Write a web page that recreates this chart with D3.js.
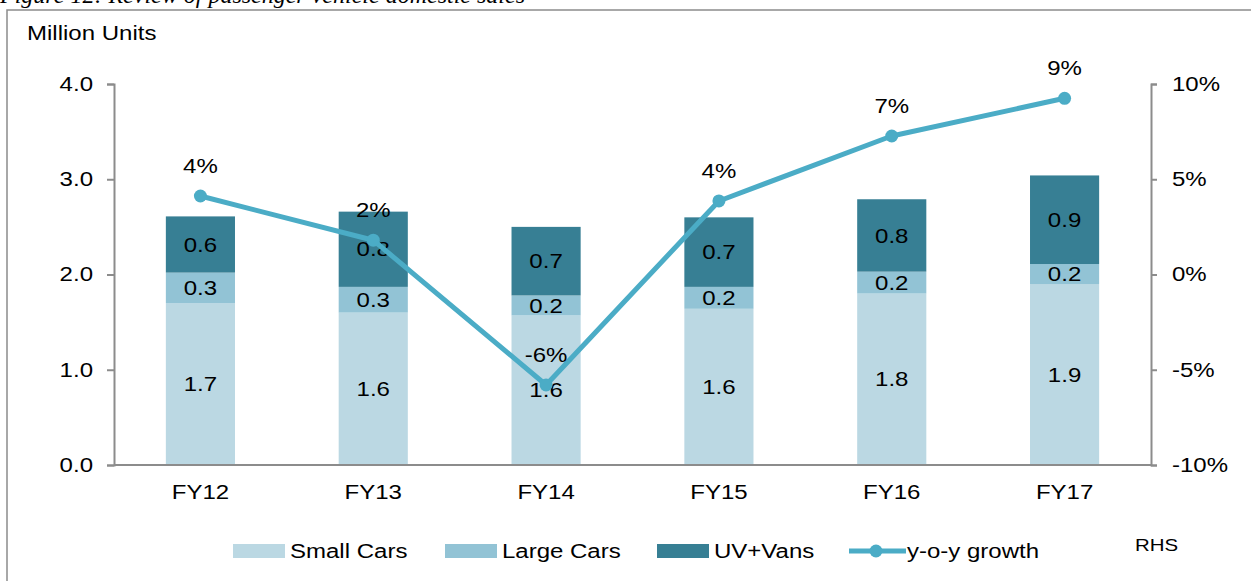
<!DOCTYPE html>
<html>
<head>
<meta charset="utf-8">
<script src="https://cdn.jsdelivr.net/npm/d3@7"></script>
<style>
  html, body { margin: 0; padding: 0; background: #fff; }
  svg { display: block; }
  text { font-family: "Liberation Sans", Arial, sans-serif; fill: #000; }
</style>
</head>
<body>
<svg id="chart" width="1251" height="581"></svg>
<script>
const categories = ["FY12", "FY13", "FY14", "FY15", "FY16", "FY17"];
const smallCars = [1.70, 1.60, 1.57, 1.64, 1.80, 1.90];
const largeCars = [0.32, 0.27, 0.21, 0.23, 0.23, 0.21];
const uvVans    = [0.59, 0.79, 0.72, 0.73, 0.76, 0.93];
const growth    = [4.12, 1.8, -5.8, 3.86, 7.27, 9.25];
const leftTicks  = [0, 1, 2, 3, 4];
const rightTicks = [-10, -5, 0, 5, 10];
const seriesNames = ["Small Cars", "Large Cars", "UV+Vans"];
const lineName = "y-o-y growth";
const colors = ["#BBD8E3", "#92C3D5", "#377F94"];
const lineColor = "#4BACC6";
const axisColor = "#8c8c8c";

const svg = d3.select("#chart");
const fmt = d3.formatLocale({decimal: ".", thousands: ",", grouping: [3], currency: ["", ""], minus: "-"});

// frame
svg.append("rect").attr("x", 7).attr("y", 10).attr("width", 1260).attr("height", 600)
  .attr("fill", "none").attr("stroke", axisColor).attr("stroke-width", 1.5);

const x = d3.scaleBand().domain(categories).range([114, 1151]).paddingInner(0.6).paddingOuter(0.3);
const yL = d3.scaleLinear().domain([0, 4]).range([465, 84]);
const yR = d3.scaleLinear().domain([-10, 10]).range([465, 84]);

const rows = categories.map((c, i) => ({cat: c, s0: smallCars[i], s1: largeCars[i], s2: uvVans[i]}));
const stack = d3.stack().keys(["s0", "s1", "s2"])(rows);

// bars
stack.forEach((layer, li) => {
  svg.append("g").selectAll("rect").data(layer).join("rect")
    .attr("x", d => x(d.data.cat))
    .attr("width", x.bandwidth())
    .attr("y", d => yL(d[1]))
    .attr("height", d => yL(d[0]) - yL(d[1]))
    .attr("fill", colors[li]);
});

// bar labels
const f1 = fmt.format(".1f");
stack.forEach((layer, li) => {
  svg.append("g").selectAll("text").data(layer).join("text")
    .attr("class", "stretch")
    .attr("x", d => x(d.data.cat) + x.bandwidth() / 2)
    .attr("y", d => (yL(d[0]) + yL(d[1])) / 2)
    .attr("dy", "0.36em")
    .attr("text-anchor", "middle")
    .style("font-size", "20px")
    .text(d => f1(d[1] - d[0]));
});

// axes
const axL = svg.append("g").attr("transform", "translate(114,0)")
  .call(d3.axisLeft(yL).tickValues(leftTicks).tickFormat(fmt.format(".1f")).tickSizeOuter(0).tickSize(7).tickPadding(14));
const axR = svg.append("g").attr("transform", "translate(1151,0)")
  .call(d3.axisRight(yR).tickValues(rightTicks).tickFormat(d => fmt.format("d")(d) + "%").tickSizeOuter(0).tickSize(6).tickPadding(15));
const axB = svg.append("g").attr("transform", "translate(0,465)")
  .call(d3.axisBottom(x).tickSize(0).tickSizeOuter(0).tickPadding(20));
[axL, axR, axB].forEach(a => {
  a.selectAll("path, line").attr("stroke", axisColor).attr("stroke-width", 2);
  a.selectAll("text").attr("class", "stretch").style("font-size", "20px")
    .style("font-family", "'Liberation Sans', Arial, sans-serif").attr("fill", "#000");
});
axB.select("path").attr("d", "M114,0H1151");

// line
const line = d3.line().x((d, i) => x(categories[i]) + x.bandwidth() / 2).y(d => yR(d));
svg.append("path").datum(growth).attr("d", line)
  .attr("fill", "none").attr("stroke", lineColor).attr("stroke-width", 5).attr("stroke-linejoin", "round");
svg.append("g").selectAll("circle").data(growth).join("circle")
  .attr("cx", (d, i) => x(categories[i]) + x.bandwidth() / 2)
  .attr("cy", d => yR(d)).attr("r", 6.5).attr("fill", lineColor);
svg.append("g").selectAll("text").data(growth).join("text")
  .attr("class", "stretch")
  .attr("x", (d, i) => x(categories[i]) + x.bandwidth() / 2)
  .attr("y", d => yR(d) - 30)
  .attr("dy", "0.36em")
  .attr("text-anchor", "middle")
  .style("font-size", "20px")
  .text(d => fmt.format(".0f")(d) + "%");

// axis title
svg.append("text").attr("class", "stretch").attr("x", 27).attr("y", 40).style("font-size", "20px").text("Million Units");

// legend
const legY = 551;
const legX = [233, 445, 657];
seriesNames.forEach((n, i) => {
  svg.append("rect").attr("x", legX[i]).attr("y", legY - 7).attr("width", 52).attr("height", 14).attr("fill", colors[i]);
  svg.append("text").attr("class", "stretch").attr("x", legX[i] + 57).attr("y", legY).attr("dy", "0.36em").style("font-size", "20px").text(n);
});
svg.append("line").attr("x1", 849).attr("x2", 906).attr("y1", legY).attr("y2", legY)
  .attr("stroke", lineColor).attr("stroke-width", 5);
svg.append("circle").attr("cx", 876).attr("cy", legY).attr("r", 6.5).attr("fill", lineColor);
svg.append("text").attr("class", "stretch").attr("x", 907).attr("y", legY).attr("dy", "0.36em").style("font-size", "20px").text(lineName);
svg.append("text").attr("class", "stretch").attr("x", 1135).attr("y", 545).attr("dy", "0.36em").style("font-size", "17px").text("RHS");

// title (cut off at top in the reference)
svg.append("text").attr("x", 0).attr("y", 3)
  .style("font-family", "'Liberation Serif', 'Times New Roman', serif")
  .style("font-style", "italic").style("font-size", "24px")
  .text("Figure 12: Review of passenger vehicle domestic sales");

// horizontal stretch of the sans-serif labels, as in the reference image
svg.selectAll("text.stretch").each(function() {
  const w = this.getComputedTextLength();
  this.setAttribute("textLength", (w * 1.2).toFixed(1));
  this.setAttribute("lengthAdjust", "spacingAndGlyphs");
});
</script>
</body>
</html>
